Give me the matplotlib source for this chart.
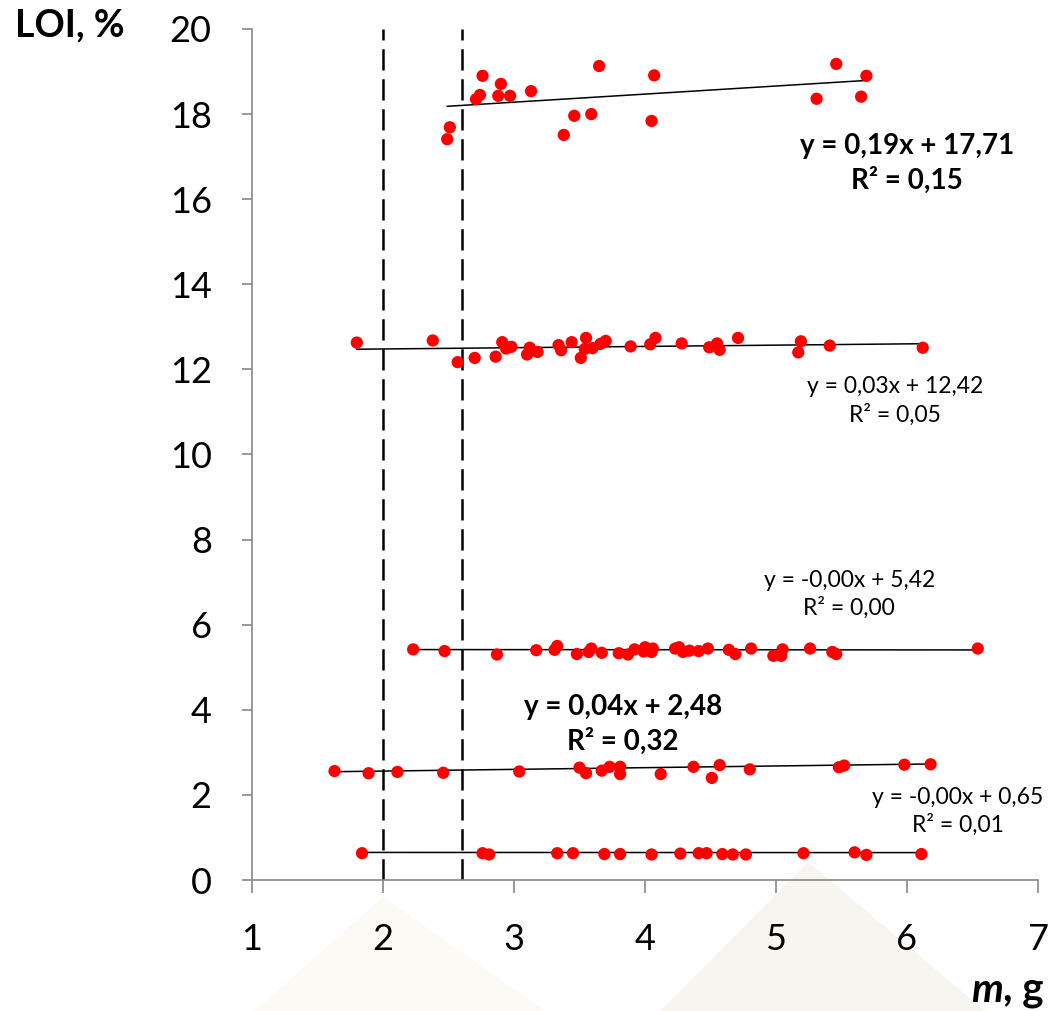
import matplotlib
matplotlib.use("Agg")
import matplotlib.pyplot as plt
from matplotlib.patches import Polygon
import numpy as np

plt.rcParams['font.family'] = ['Lato', 'DejaVu Sans']

# ---- data ----
x1 = [2.49, 2.51, 2.71, 2.74, 2.76, 2.88, 2.90, 2.97, 3.13, 3.38, 3.46, 3.59, 3.65, 4.05, 4.07, 5.31, 5.46, 5.65, 5.69]
y1 = [17.41, 17.69, 18.35, 18.45, 18.90, 18.43, 18.71, 18.43, 18.54, 17.51, 17.96, 18.00, 19.13, 17.84, 18.91, 18.36, 19.18, 18.41, 18.90]

x2 = [1.80, 2.38, 2.57, 2.70, 2.86, 2.91, 2.94, 2.98, 3.10, 3.12, 3.18, 3.34, 3.36, 3.44, 3.51, 3.55, 3.54, 3.60,
      3.66, 3.70, 3.89, 4.04, 4.08, 4.28, 4.49, 4.55, 4.57, 4.71, 5.19, 5.17, 5.41, 6.12]
y2 = [12.63, 12.68, 12.17, 12.27, 12.30, 12.64, 12.49, 12.53, 12.35, 12.51, 12.41, 12.57, 12.45, 12.64, 12.27, 12.74, 12.48, 12.50,
      12.60, 12.67, 12.54, 12.59, 12.74, 12.61, 12.52, 12.61, 12.46, 12.74, 12.66, 12.40, 12.56, 12.51]

x3 = [2.23, 2.47, 2.87, 3.17, 3.31, 3.33, 3.48, 3.57, 3.59, 3.67, 3.80, 3.87, 3.92, 4.00, 3.99, 4.06, 4.05, 4.23, 4.26,
      4.29, 4.34, 4.41, 4.48, 4.64, 4.69, 4.81, 4.98, 5.04, 5.05, 5.26, 5.43, 5.46, 6.54]
y3 = [5.42, 5.38, 5.30, 5.40, 5.41, 5.50, 5.31, 5.36, 5.44, 5.34, 5.33, 5.30, 5.42, 5.47, 5.37, 5.44, 5.36, 5.44, 5.47,
      5.36, 5.39, 5.38, 5.44, 5.41, 5.31, 5.44, 5.27, 5.27, 5.42, 5.44, 5.36, 5.31, 5.44]

x4 = [1.63, 1.89, 2.11, 2.46, 3.04, 3.50, 3.55, 3.67, 3.73, 3.81, 3.81, 4.12, 4.37, 4.51, 4.57, 4.80, 5.48, 5.52, 5.98, 6.18]
y4 = [2.56, 2.51, 2.54, 2.52, 2.55, 2.64, 2.51, 2.57, 2.66, 2.66, 2.49, 2.49, 2.66, 2.40, 2.70, 2.60, 2.65, 2.69, 2.71, 2.72]

x5 = [1.84, 2.76, 2.81, 3.33, 3.45, 3.69, 3.81, 4.05, 4.27, 4.41, 4.47, 4.59, 4.67, 4.77, 5.21, 5.60, 5.69, 6.11]
y5 = [0.63, 0.63, 0.60, 0.63, 0.63, 0.61, 0.61, 0.60, 0.62, 0.63, 0.63, 0.61, 0.60, 0.60, 0.63, 0.65, 0.59, 0.61]

slopes = [0.19, 0.03, -0.002, 0.04, -0.001]
intercepts = [17.71, 12.42, 5.42, 2.48, 0.65]
eq_labels = ["y = 0,19x + 17,71\nR² = 0,15",
             "y = 0,03x + 12,42\nR² = 0,05",
             "y = -0,00x + 5,42\nR² = 0,00",
             "y = 0,04x + 2,48\nR² = 0,32",
             "y = -0,00x + 0,65\nR² = 0,01"]
eq_bold = [True, False, False, True, False]
eq_pos = [(6.00, 16.83), (5.91, 11.26), (5.56, 6.71), (3.83, 3.65), (6.39, 1.61)]

vlines_x = [2.0, 2.6]
x_ticks = [1, 2, 3, 4, 5, 6, 7]
y_ticks = [0, 2, 4, 6, 8, 10, 12, 14, 16, 18, 20]

# ---- figure ----
fig = plt.figure(figsize=(10.56, 10.11), dpi=100)

# faint watermark triangles in a background axes
bg = fig.add_axes([0, 0, 1, 1], zorder=-5)
bg.set_xlim(0, 1056)
bg.set_ylim(1011, 0)
bg.axis('off')
for pts, col in [([(255, 1011), (383, 897), (545, 1011)], '#fcfaf4'),
                 ([(660, 1011), (808, 862), (985, 1011)], '#f6f5f0')]:
    bg.add_patch(Polygon(pts, closed=True, facecolor=col, edgecolor='none'))

ax = fig.add_axes([252 / 1056, 1 - 880 / 1011, (1038 - 252) / 1056, (880 - 29) / 1011])
ax.patch.set_alpha(0)

xs_all = [x1, x2, x3, x4, x5]
ys_all = [y1, y2, y3, y4, y5]
for xs, ys, k, b in zip(xs_all, ys_all, slopes, intercepts):
    xx = np.array([min(xs), max(xs)])
    ax.plot(xx, k * xx + b, color='black', lw=1.1, zorder=2)
    ax.scatter(xs, ys, s=78, color='#ff0000', edgecolors='none', zorder=3)

for vx in vlines_x:
    ax.plot([vx, vx], [0, 20], color='black', lw=1.8, dashes=(8.5, 3.5), zorder=1)

for (tx, ty), lab, bold in zip(eq_pos, eq_labels, eq_bold):
    ax.text(tx, ty, lab, ha='center', va='center', multialignment='center',
            fontsize=20 if bold else 16.5, fontweight='bold' if bold else 'normal',
            linespacing=1.35, zorder=4)

ax.set_xlim(1, 7)
ax.set_ylim(0, 20)
ax.set_xticks(x_ticks)
ax.set_yticks(y_ticks)
ax.tick_params(axis='both', labelsize=26, colors='#888888', labelcolor='black')
ax.tick_params(axis='x', direction='out', length=9, width=1.2, pad=22)
ax.tick_params(axis='y', direction='out', length=7, width=1.2, pad=22)
for s in ['top', 'right']:
    ax.spines[s].set_visible(False)
for s in ['left', 'bottom']:
    ax.spines[s].set_color('#888888')
    ax.spines[s].set_linewidth(1.2)

fig.text(15 / 1056, 1 - 25 / 1011, "LOI, %", fontsize=27, fontweight='bold', ha='left', va='center')
fig.text(1003 / 1056, 1 - 990 / 1011, "m", fontsize=29, fontweight='bold', fontstyle='italic', ha='right', va='center')
fig.text(1003 / 1056, 1 - 990 / 1011, ", g", fontsize=29, fontweight='bold', ha='left', va='center')

fig.savefig("out.png", dpi=100)
